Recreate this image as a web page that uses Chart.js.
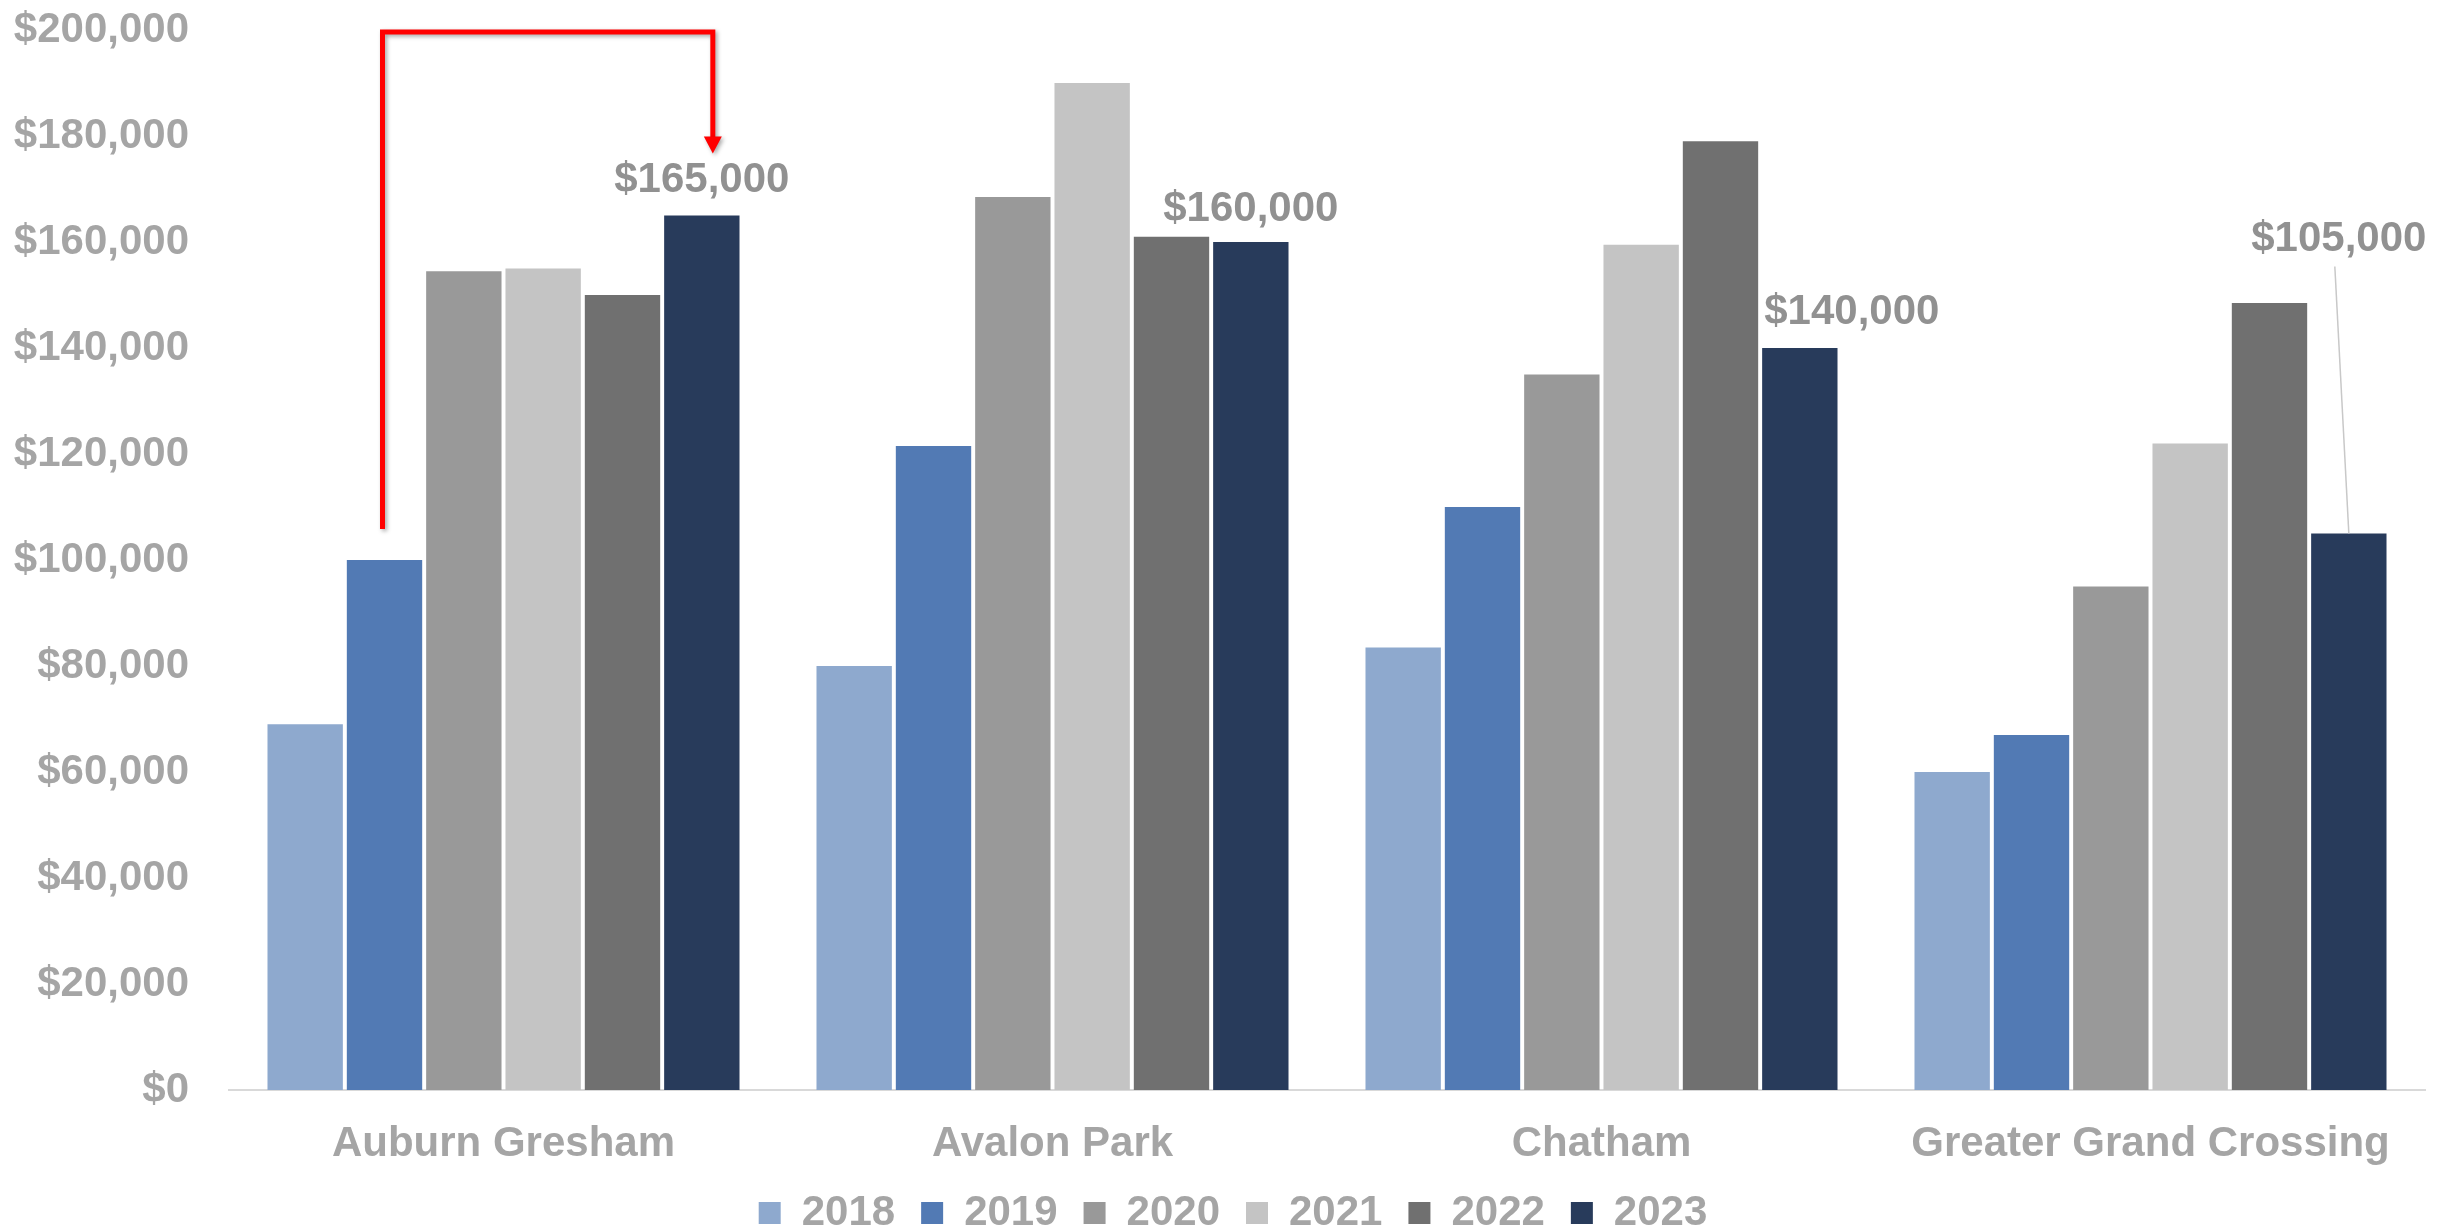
<!DOCTYPE html>
<html>
<head>
<meta charset="utf-8">
<script src="https://cdn.jsdelivr.net/npm/chart.js@4.4.1/dist/chart.umd.min.js"></script>
<style>
  html, body { margin: 0; padding: 0; background: #ffffff; }
  #wrap { width: 2463px; height: 1232px; position: relative; }
</style>
</head>
<body>
<div id="wrap"><canvas id="grafico"></canvas></div>
<script>
// ---- datos ----------------------------------------------------------------
const barrios = ['Auburn Gresham', 'Avalon Park', 'Chatham', 'Greater Grand Crossing'];
const anios   = ['2018', '2019', '2020', '2021', '2022', '2023'];

const v2018 = [69000, 80000, 83500, 60000];
const v2019 = [100000, 121500, 110000, 67000];
const v2020 = [154500, 168500, 135000, 95000];
const v2021 = [155000, 190000, 159500, 122000];
const v2022 = [150000, 161000, 179000, 148500];
const v2023 = [165000, 160000, 140000, 105000];

const ticksY = [0, 20000, 40000, 60000, 80000, 100000, 120000, 140000, 160000, 180000, 200000];

// ---- estilo ---------------------------------------------------------------
const colores = ['#8EA9CE', '#527AB4', '#999999', '#C4C4C4', '#707070', '#283B5B'];
const grisTexto = '#A5A5A5';
const grisEtiqueta = '#919191';
const fuente = { family: "'Liberation Sans', Arial, sans-serif", size: 42, weight: 'bold' };

const fmt = v => '$' + v.toLocaleString('en-US');

// desplazamiento de las etiquetas de 2023 respecto a la barra (px)
const offEtiqueta = [
  { dx: 0,   dy: 35 },
  { dx: 0,   dy: 33 },
  { dx: 52,  dy: 36 },
  { dx: -10, dy: 294, guia: true }
];

const series = [v2018, v2019, v2020, v2021, v2022, v2023];

// etiquetas de valor sobre las barras de 2023
const pluginEtiquetas = {
  id: 'etiquetas2023',
  afterDatasetsDraw(chart) {
    const ctx = chart.ctx;
    const meta = chart.getDatasetMeta(5);
    ctx.save();
    ctx.font = `bold ${fuente.size}px ${fuente.family}`;
    ctx.fillStyle = grisEtiqueta;
    ctx.textAlign = 'center';
    ctx.textBaseline = 'middle';
    meta.data.forEach((bar, i) => {
      const o = offEtiqueta[i];
      const x = bar.x + o.dx;
      const y = bar.y - o.dy;
      ctx.fillText(fmt(v2023[i]), x, y);
      if (o.guia) {
        ctx.strokeStyle = '#C8C8C8';
        ctx.lineWidth = 1.5;
        ctx.beginPath();
        ctx.moveTo(x - 4, y + 27);
        ctx.lineTo(bar.x, bar.y);
        ctx.stroke();
      }
    });
    ctx.restore();
  }
};

// conector rojo de 2019 a 2023 en Auburn Gresham
const pluginConector = {
  id: 'conector',
  afterDraw(chart) {
    const ctx = chart.ctx;
    const b19 = chart.getDatasetMeta(1).data[0];
    const b23 = chart.getDatasetMeta(5).data[0];
    const x1 = b19.x - 2;
    const x2 = b23.x + 11;
    const yIni = b19.y - 31;
    const yTop = chart.chartArea.top + 2;
    const yPunta = b23.y - 62;
    ctx.save();
    ctx.shadowColor = 'rgba(0,0,0,0.35)';
    ctx.shadowBlur = 4;
    ctx.shadowOffsetX = 2;
    ctx.shadowOffsetY = 2;
    ctx.strokeStyle = '#FF0000';
    ctx.fillStyle = '#FF0000';
    ctx.lineWidth = 5;
    ctx.lineJoin = 'miter';
    ctx.beginPath();
    ctx.moveTo(x1, yIni);
    ctx.lineTo(x1, yTop);
    ctx.lineTo(x2, yTop);
    ctx.lineTo(x2, yPunta - 14);
    ctx.stroke();
    ctx.beginPath();
    ctx.moveTo(x2 - 9, yPunta - 17);
    ctx.lineTo(x2 + 9, yPunta - 17);
    ctx.lineTo(x2, yPunta);
    ctx.closePath();
    ctx.fill();
    ctx.restore();
  }
};

// la leyenda va un poco a la derecha del centro
const pluginLeyenda = {
  id: 'moverLeyenda',
  afterLayout(chart) {
    chart.legend.left += 14;
    chart.legend.right += 14;
  }
};

new Chart(document.getElementById('grafico'), {
  type: 'bar',
  data: {
    labels: barrios,
    datasets: anios.map((a, i) => ({
      label: a,
      data: series[i],
      backgroundColor: colores[i],
      borderWidth: 0,
      barPercentage: 0.95,
      categoryPercentage: 0.867
    }))
  },
  options: {
    responsive: true,
    maintainAspectRatio: false,
    animation: false,
    devicePixelRatio: 1,
    layout: { padding: { left: 13, right: 38, top: 30, bottom: -12 } },
    plugins: {
      tooltip: { enabled: false },
      legend: {
        position: 'bottom',
        labels: {
          color: grisTexto,
          font: fuente,
          boxWidth: 22,
          boxHeight: 22,
          padding: 26
        }
      }
    },
    scales: {
      x: {
        grid: { display: false, drawTicks: false },
        border: { display: true, color: '#D9D9D9', width: 2 },
        ticks: { color: grisTexto, font: fuente, padding: 29 },
        afterFit: s => { s.height = 76; s.paddingLeft = 0; s.paddingRight = 0; }
      },
      y: {
        min: 0,
        max: 200000,
        afterBuildTicks: axis => { axis.ticks = ticksY.map(v => ({ value: v })); },
        grid: { display: false, drawTicks: false },
        border: { display: false },
        ticks: { color: grisTexto, font: fuente, padding: 40, callback: v => fmt(v) },
        afterFit: s => { s.width = 216; s.paddingTop = 0; s.paddingBottom = 0; }
      }
    }
  },
  plugins: [pluginEtiquetas, pluginConector, pluginLeyenda]
});
</script>
</body>
</html>
